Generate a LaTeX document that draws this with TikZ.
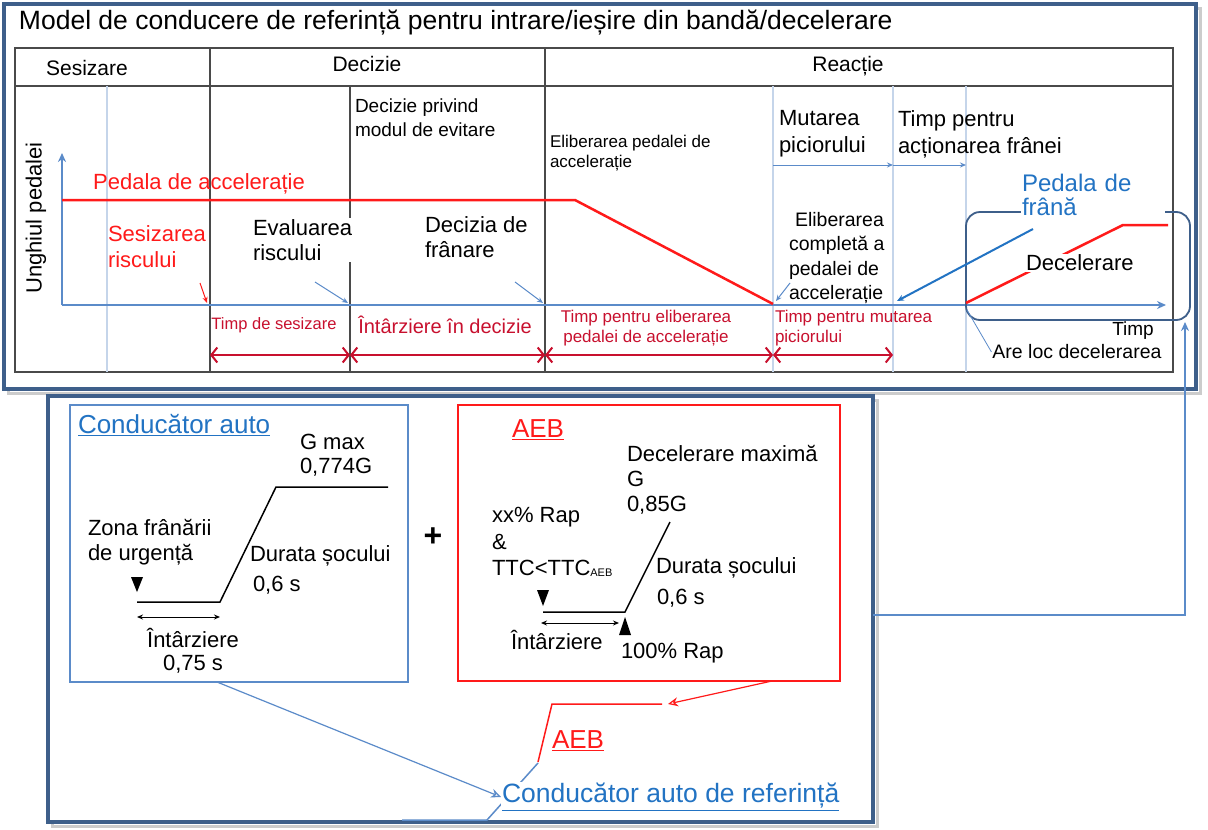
\documentclass[tikz,border=0pt]{standalone}
\usepackage{fontspec}
\setmainfont{Liberation Sans}
\usetikzlibrary{arrows.meta,calc}
\definecolor{frameblue}{HTML}{3E5F8A}
\definecolor{lblue}{HTML}{5B8BC9}
\definecolor{vlblue}{HTML}{C5D5EA}
\definecolor{myred}{HTML}{FF1A1A}
\definecolor{dred}{HTML}{C8102E}
\definecolor{txtblue}{HTML}{2273C3}
\definecolor{gridgray}{HTML}{4A4A4A}
\newcommand\fz[2]{\fontsize{#1}{#2}\selectfont}
\tikzset{
  lbl/.style={inner sep=0pt, outer sep=0pt, align=left},
  wlbl/.style={lbl, fill=white, inner sep=1pt},
  grid/.style={gridgray, line width=1.2pt},
  vgrid/.style={vlblue, line width=1.5pt},
  axis/.style={lblue, line width=1.8pt, -{Stealth[length=9pt,width=8pt]}},
  thinarrow/.style={lblue, line width=1pt, -{Stealth[length=6pt,width=5pt]}},
  redbar/.style={dred, line width=2pt, {Straight Barb[length=6pt,width=15pt]}-{Straight Barb[length=6pt,width=15pt]}},
  graphline/.style={black, line width=1.5pt},
}
\begin{document}
\begin{tikzpicture}[x=1pt,y=-1pt]
\useasboundingbox[fill=white] (0,0) rectangle (1208,830);
% ---------- top frame ----------
\draw[gray!40, line width=3pt] (8,8) rectangle (1200,393);
\draw[frameblue, line width=3.5pt, fill=white] (4,4) rectangle (1196,389);
\node[anchor=west, lbl, font=\fz{26.5}{30}] (title) at (19,23) {Model de conducere de referință pentru intrare/ieșire din bandă/decelerare};
% table
\draw[grid] (15,48) rectangle (1173,372);
\draw[grid] (15,86) -- (1173,86);
\draw[grid] (210,48) -- (210,86);
\draw[grid] (545,48) -- (545,86);
\node[lbl, font=\fz{21}{24}] (hS) at (87,68) {Sesizare};
\node[lbl, font=\fz{21}{24}] (hD) at (367,64) {Decizie};
\node[lbl, font=\fz{21}{24}] (hR) at (848,66) {Reacție};
% verticals
\draw[vgrid] (107,86) -- (107,372);
\draw[vgrid] (773,86) -- (773,372);
\draw[vgrid] (893,86) -- (893,372);
\draw[vgrid] (966,86) -- (966,372);
\draw[grid] (210,86) -- (210,372);
\draw[grid] (350,86) -- (350,372);
\draw[grid] (545,86) -- (545,372);
% axes
\coordinate (O) at (62,305);
\draw[axis] (O) -- (62,153);
\draw[axis] (O) -- (1166,305);
\node[lbl, font=\fz{22}{25}, rotate=90] (yl) at (36,218) {Unghiul pedalei};
% accelerator pedal
\draw[myred, line width=2.5pt] (62,200) -- (575,200) -- (773,304);
\node[lbl, font=\fz{22}{25}, text=myred] (acc) at (199,184) {Pedala de accelerație};
% texts in body
\node[anchor=west, lbl, font=\fz{19}{24}] (dpm) at (355,118) {Decizie privind\\modul de evitare};
\node[anchor=west, lbl, font=\fz{17}{20}] (elib) at (550,153) {Eliberarea pedalei de\\accelerație};
\node[anchor=west, lbl, font=\fz{22}{27}] (mut) at (779,134) {Mutarea\\piciorului};
\node[anchor=west, lbl, font=\fz{22}{27}] (tpa) at (898,134) {Timp pentru\\acționarea frânei};
\coordinate (m1) at (773,165);
\coordinate (m2) at (893,165);
\coordinate (m3) at (966,165);
\draw[thinarrow] (m1) -- (m2);
\draw[thinarrow] (m2) -- (m3);
\node[anchor=west, lbl, font=\fz{22}{26}, text=myred] (sr) at (108,247) {Sesizarea\\riscului};
\node[anchor=west, wlbl, font=\fz{22}{25}] (er) at (252,240) {Evaluarea\\riscului};
\node[anchor=west, lbl, font=\fz{22}{25}] (df) at (425,237) {Decizia de\\frânare};
\draw[myred, line width=1pt, -{Stealth[length=6pt,width=5pt]}] (200,283) -- (207,303);
\draw[thinarrow] (315,282) -- (348,303);
\draw[thinarrow] (515,282) -- (543,303);
\node[anchor=west, lbl, font=\fz{19.5}{24.5}] (ecp) at (789,258) {\hspace*{6pt}Eliberarea\\completă a\\pedalei de\\accelerație};
\draw[thinarrow] (790,283) -- (776,301);
% time labels
\node[lbl, font=\fz{16.5}{19}, text=dred] (ts) at (274,325) {Timp de sesizare};
\node[lbl, font=\fz{20}{23}, text=dred] (id) at (445,325) {Întârziere în decizie};
\node[lbl, align=center, font=\fz{17}{20}, text=dred] (tel) at (646,328) {Timp pentru eliberarea\\pedalei de accelerație};
\node[anchor=west, lbl, font=\fz{17}{20}, text=dred] (tmp) at (775,328) {Timp pentru mutarea\\piciorului};
\coordinate (a1) at (210,355);
\coordinate (a2) at (350,355);
\coordinate (a3) at (545,355);
\coordinate (a4) at (773,355);
\coordinate (a5) at (893,355);
\draw[redbar] (a1) -- (a2);
\draw[redbar] (a2) -- (a3);
\draw[redbar] (a3) -- (a4);
\draw[redbar] (a4) -- (a5);
% deceleration area
\draw[frameblue, line width=1.8pt, rounded corners=14pt] (966,212) rectangle (1190,320);
\draw[myred, line width=2.5pt] (966,303) -- (1123,225) -- (1168,225);
\node[anchor=west, wlbl, font=\fz{22}{25}] (dec) at (1025,263) {Decelerare};
\node[anchor=west, lbl, font=\fz{24}{24}, text=txtblue, fill=white, inner sep=1pt, text width=142pt] (pf) at (1021,195) {Pedala de\\frână};
\coordinate (pfend) at (897,301);
\draw[txtblue, line width=2pt, -{Stealth[length=7pt,width=6pt]}] (1033,229) -- (pfend);
\node[lbl, font=\fz{19}{22}] (timp) at (1133,331) {Timp};
\node[lbl, font=\fz{19.5}{22}, fill=white, inner sep=1pt] (alc) at (1077,352) {Are loc decelerarea};
\draw[lblue, line width=0.8pt] (967,310) -- (alc.west);
% ---------- bottom frame ----------
\draw[gray!40, line width=3pt] (52,400) rectangle (877,826);
\draw[frameblue, line width=3.5pt, fill=white] (48,396) rectangle (873,822);
% connector to deceleration box
\coordinate (bR) at (873,615);
\draw[lblue, line width=1.8pt, -{Stealth[length=9pt,width=8pt]}] (bR) -- (1185,615) -- (1185,322);
% driver box
\coordinate (drvNW) at (70,405);
\coordinate (drvSE) at (408,682);
\draw[lblue, line width=1.5pt] (drvNW) rectangle (drvSE);
\node[anchor=west, lbl, font=\fz{26}{29}, text=txtblue] (drv) at (78,425) {\underline{Conducător auto}};
\node[anchor=west, lbl, font=\fz{22}{24}] (gmax) at (300,455) {G max\\0,774G};
\draw[graphline] (137,602) -- (220,602) -- (276,487) -- (388,487);
\fill (131,577) -- (143,577) -- (137,592) -- cycle;
\draw[black, line width=1pt, {Stealth[length=6pt,width=5pt]}-{Stealth[length=6pt,width=5pt]}] (137,617) -- (220,617);
\node[anchor=west, lbl, font=\fz{22}{25}] (zona) at (88,542) {Zona frânării\\de urgență};
\node[anchor=west, wlbl, font=\fz{22}{25}] (ds1) at (249,556) {Durata șocului};
\node[anchor=west, lbl, font=\fz{22}{25}] (t1) at (253,585) {0,6 s};
\node[lbl, align=center, font=\fz{22}{23}] (intz) at (193,651) {Întârziere\\0,75 s};
\node[lbl, font=\bfseries\fz{32}{34}] (plus) at (433,537) {+};
% AEB box
\coordinate (aebNW) at (458,405);
\coordinate (aebSE) at (840,681);
\draw[myred, line width=1.5pt] (aebNW) rectangle (aebSE);
\node[anchor=west, lbl, font=\fz{26}{29}, text=myred] (aeb) at (512,430) {\underline{AEB}};
\node[anchor=west, lbl, font=\fz{22}{25}] (dmax) at (627,480) {Decelerare maximă\\G\\0,85G};
\node[anchor=west, lbl, font=\fz{22}{26.5}] (xx) at (492,542) {xx\% Rap\\\&\\TTC<TTC\raisebox{-1pt}{\fz{11}{12}AEB}};
\draw[graphline] (543,612) -- (625,612) -- (670,522);
\fill (537,590) -- (549,590) -- (543,606) -- cycle;
\fill (619,635) -- (631,635) -- (625,617) -- cycle;
\draw[black, line width=1pt, {Stealth[length=6pt,width=5pt]}-{Stealth[length=6pt,width=5pt]}] (541,623) -- (619,623);
\node[anchor=west, wlbl, font=\fz{22}{25}] (ds2) at (655,568) {Durata șocului};
\node[anchor=west, lbl, font=\fz{22}{25}] (t2) at (657,598) {0,6 s};
\node[anchor=west, lbl, font=\fz{22}{25}] (intz2) at (511,640) {Întârziere};
\node[anchor=west, lbl, font=\fz{22}{25}] (rap) at (621,653) {100\% Rap};
% reference driver
\draw[myred, line width=1.5pt] (662,704) -- (552,704) -- (538,762);
\draw[lblue, line width=1.5pt] (538,763) -- (487,820) -- (402,820);
\node[anchor=west, lbl, font=\fz{26}{29}, text=myred] (aeb2) at (552,741) {\underline{AEB}};
\node[anchor=west, lbl, font=\fz{26.5}{29}, text=txtblue, fill=white, inner sep=1pt] (ref) at (501,797) {\underline{Conducător auto de referință}};
\coordinate (drvS) at (217,682);
\coordinate (aebS) at (772,681);
\draw[lblue, line width=1.2pt, -{Stealth[length=10pt,width=9pt,open]}] (drvS) -- (ref.west);
\draw[myred, line width=1.2pt, -{Stealth[length=10pt,width=9pt,open]}] (aebS) -- (668,704);
\end{tikzpicture}
\end{document}
